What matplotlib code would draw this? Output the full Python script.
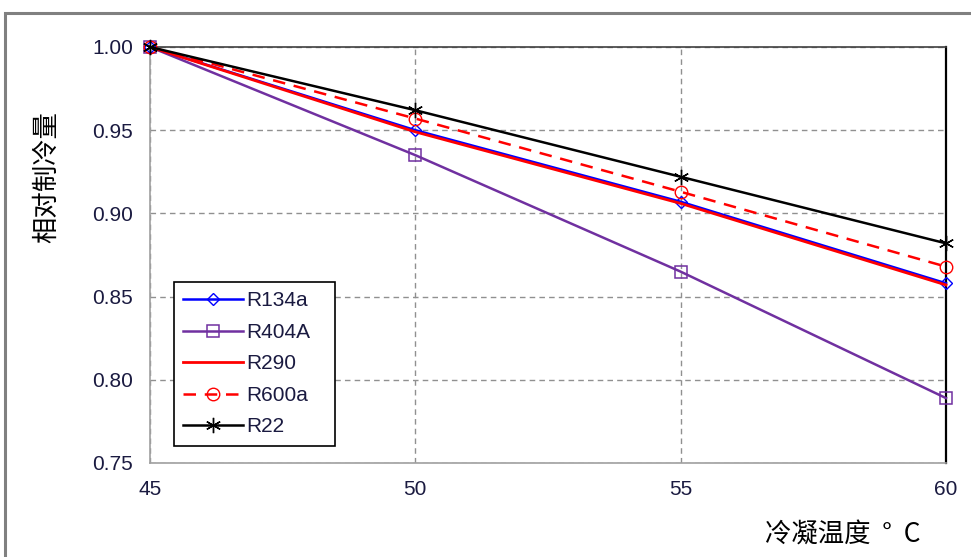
import matplotlib
matplotlib.use("Agg")
import matplotlib.pyplot as plt
from matplotlib.patches import Rectangle

plt.rcParams['font.family'] = ['Liberation Sans', 'DejaVu Sans']

temps = [45, 50, 55, 60]
r134a = [1.000, 0.950, 0.907, 0.858]
r404a = [1.000, 0.935, 0.865, 0.789]
r290 = [1.000, 0.949, 0.906, 0.857]
r600a = [1.000, 0.957, 0.913, 0.868]
r22 = [1.000, 0.962, 0.922, 0.882]

x_ticks = [45, 50, 55, 60]
y_ticks = [0.75, 0.80, 0.85, 0.90, 0.95, 1.00]

fig = plt.figure(figsize=(9.71, 5.57), dpi=100)
ax = fig.add_axes([150/971, 1 - 463/557, 796/971, 416/557])

# outer chart frame
fig.patches.append(Rectangle((5/971, -0.1), 1.2, 1 - 13/557 + 0.1,
                             transform=fig.transFigure, fill=False,
                             edgecolor='#808080', linewidth=2.2))

common = dict(clip_on=False)
ax.plot(temps, r404a, color='#7030a0', lw=1.8, marker='s', ms=9,
        mfc='none', mec='#7030a0', mew=1.1, label='R404A', zorder=3, **common)
ax.plot(temps, r134a, color='#0000ff', lw=1.8, marker='D', ms=6,
        mfc='none', mec='#0000ff', mew=1.0, label='R134a', zorder=4, **common)
ax.plot(temps, r290, color='#ff0000', lw=2.0, label='R290', zorder=5, **common)
ax.plot(temps, r600a, color='#ff0000', lw=1.8, ls=(0, (5, 3.5)), marker='o',
        ms=9, mfc='none', mec='#ff0000', mew=1.0, label='R600a', zorder=4,
        **common)
ax.plot(temps, r22, color='#000000', lw=1.8, marker=(6, 2, 0), ms=11,
        mew=1.0, label='R22', zorder=6, **common)

ax.set_xlim(45, 60)
ax.set_ylim(0.75, 1.00)
ax.set_xticks(x_ticks)
ax.set_yticks(y_ticks)
ax.set_xticklabels([str(t) for t in x_ticks])
ax.set_yticklabels([f'{v:.2f}' for v in y_ticks])
ax.tick_params(length=0, labelsize=15, colors='#1a1a40')
ax.tick_params(axis='y', pad=12)
ax.tick_params(axis='x', pad=12)

ax.grid(True, color='#909090', ls=(0, (4, 3)), lw=1.0)
ax.set_axisbelow(True)
for side in ('left', 'bottom', 'top'):
    ax.spines[side].set_color('#a0a0a0')
    ax.spines[side].set_linewidth(1.2)
ax.spines['top'].set_color('#404040')
ax.spines['right'].set_color('#000000')
ax.spines['right'].set_linewidth(1.6)

handles, labels = ax.get_legend_handles_labels()
order = ['R134a', 'R404A', 'R290', 'R600a', 'R22']
hmap = dict(zip(labels, handles))
leg = ax.legend([hmap[k] for k in order], order, loc='upper left',
                bbox_to_anchor=(24/796, (463 - 443)/416, 161/796, 161/416),
                mode='expand', fontsize=15,
                frameon=True, fancybox=False, edgecolor='#000000',
                framealpha=1, borderpad=0.45, labelspacing=0.6,
                handlelength=2.85, handletextpad=0.15, borderaxespad=0)
leg.get_frame().set_linewidth(1.2)
for t in leg.get_texts():
    t.set_color('#1a1a40')

fig.text(47/971, 1 - 177/557, '相对制冷量', rotation=90, ha='center',
         va='center', fontsize=19, family=['Noto Sans CJK SC', 'DejaVu Sans'])
fig.text(843/971, 1 - 535/557, '冷凝温度  °  C', ha='center', va='center',
         fontsize=19, family=['Noto Sans CJK SC', 'DejaVu Sans'])

fig.savefig('out.png', dpi=100)
